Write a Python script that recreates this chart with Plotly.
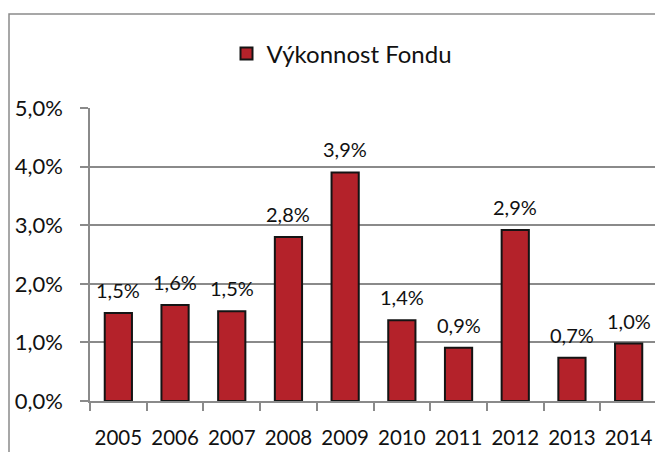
import plotly.graph_objects as go

years = ["2005", "2006", "2007", "2008", "2009", "2010", "2011", "2012", "2013", "2014"]
performance = [1.50, 1.64, 1.53, 2.80, 3.90, 1.38, 0.91, 2.92, 0.74, 0.98]
value_labels = ["1,5%", "1,6%", "1,5%", "2,8%", "3,9%", "1,4%", "0,9%", "2,9%", "0,7%", "1,0%"]
y_ticks = [0, 1, 2, 3, 4, 5]
y_tick_labels = ["0,0%", "1,0%", "2,0%", "3,0%", "4,0%", "5,0%"]
series_name = "Výkonnost Fondu"

FONT = "Lato, 'Open Sans', sans-serif"

# page has an 8px body margin, so the figure is drawn 8px smaller
W, H = 655, 444
L, R, T, B = 82, 6, 100, 51
pw, ph = W - L - R, H - T - B

def px_to_paper_x(px):
    return (px - L) / pw

def px_to_paper_y(py):
    return (H - B - py) / ph

fig = go.Figure()
fig.add_trace(go.Bar(
    x=years, y=performance, name=series_name,
    marker=dict(color="#B4222A", line=dict(color="#141414", width=2)),
    cliponaxis=False,
))

# category index positions for the value labels
for i, (v, lab) in enumerate(zip(performance, value_labels)):
    fig.add_annotation(x=i, y=v, text=lab, showarrow=False, yanchor="bottom", yshift=9,
                       font=dict(family=FONT, size=20, color="#111"))

fx = px_to_paper_x(1)
fy = px_to_paper_y(6)
fig.add_shape(type="path", xref="paper", yref="paper",
              path=f"M {fx} {px_to_paper_y(460)} L {fx} {fy} L {px_to_paper_x(700)} {fy}",
              line=dict(color="#8a8a8a", width=1.5))

fig.update_layout(
    width=W, height=H,
    margin=dict(l=L, r=R, t=T, b=B, autoexpand=False),
    paper_bgcolor="white", plot_bgcolor="white",
    bargap=0.52,
    showlegend=True,
    legend=dict(orientation="h", x=px_to_paper_x(334), xanchor="center", y=px_to_paper_y(46), yanchor="middle",
                font=dict(family=FONT, size=24, color="#111")),
    font=dict(family=FONT, color="#111"),
    xaxis=dict(
        type="category", range=[-0.5, len(years) - 0.5],
        showline=True, linecolor="#8a8a8a", linewidth=1.5,
        ticks="outside", ticklen=8, tickcolor="#8a8a8a", tickwidth=1.5,
        tickson="boundaries", ticklabelstandoff=18, automargin=False,
        tickangle=0,
        tickfont=dict(family=FONT, size=20.5, color="#111"),
        showgrid=False,
    ),
    yaxis=dict(
        range=[0, 5], tickvals=y_ticks, ticktext=y_tick_labels,
        showline=True, linecolor="#8a8a8a", linewidth=1.5,
        ticks="outside", ticklen=8, tickcolor="#8a8a8a", tickwidth=1.5,
        ticklabelstandoff=13, automargin=False,
        showgrid=True, gridcolor="#8a8a8a", gridwidth=1.5,
        tickfont=dict(family=FONT, size=22, color="#111"),
        zeroline=False,
    ),
)

fig.write_html("out.html")
